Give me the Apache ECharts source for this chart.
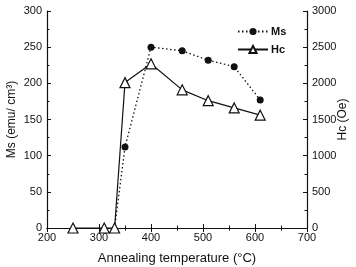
<!DOCTYPE html>
<html>
<head>
<meta charset="utf-8">
<script src="https://cdn.jsdelivr.net/npm/echarts@6/dist/echarts.min.js"></script>
<style>
html, body { margin: 0; padding: 0; background: #fff; }
#chart { width: 356px; height: 267px; }
</style>
</head>
<body>
<div id="chart"></div>
<script>
// annealing temperature (C) and the two measured series
var msTemp = [330, 350, 400, 460, 510, 560, 610]
var msValue = [0, 112, 250, 245, 232, 223, 177]
var hcTemp = [250, 310, 330, 350, 400, 460, 510, 560, 610]
var hcValue = [0, 0, 0, 2010, 2270, 1910, 1760, 1660, 1560]

function pairs(xs, ys) {
    var out = []
    for (var i = 0; i < xs.length; i++) out.push([xs[i], ys[i]])
    return out
}

var font = "Liberation Sans"
var ink = "#111"
var chart = echarts.init(document.getElementById("chart"))

var tickInside = { show: true, inside: true, length: 4, lineStyle: { color: ink, width: 1 } }
var minorInside = { show: true, splitNumber: 2, length: 2.5, lineStyle: { color: ink, width: 1 } }

chart.setOption({
    animation: false,
    backgroundColor: "#fff",
    grid: { left: 47, right: 49, top: 11, bottom: 39, outerBoundsMode: "none", containLabel: false },
    legend: {
        left: 232, top: 21, orient: "vertical", itemGap: 7,
        itemWidth: 30, itemHeight: 9,
        textStyle: { fontFamily: font, fontSize: 11, fontWeight: "bold", color: ink, padding: [0, 0, 0, -2] },
        data: ["Ms", "Hc"]
    },
    xAxis: [{
        type: "value", min: 200, max: 700, interval: 100,
        name: "Annealing temperature (°C)", nameLocation: "middle", nameGap: 24, nameMoveOverlap: false,
        nameTextStyle: { fontFamily: font, fontSize: 13, color: ink },
        axisLine: { lineStyle: { color: ink, width: 1.2 } },
        axisTick: tickInside, minorTick: minorInside,
        axisLabel: { fontFamily: font, fontSize: 11, color: ink, margin: 4 },
        splitLine: { show: false }
    }, {
        type: "value", position: "top", min: 200, max: 700, interval: 100,
        axisLine: { lineStyle: { color: ink, width: 1.2 } },
        axisTick: tickInside, minorTick: minorInside,
        axisLabel: { show: false }, splitLine: { show: false }
    }],
    yAxis: [{
        type: "value", min: 0, max: 300, interval: 50,
        name: "Ms (emu/ cm³)", nameLocation: "middle", nameGap: 29, nameRotate: 90, nameMoveOverlap: false,
        nameTextStyle: { fontFamily: font, fontSize: 12, color: ink },
        axisLine: { show: true, lineStyle: { color: ink, width: 1.2 } },
        axisTick: tickInside, minorTick: minorInside,
        axisLabel: { fontFamily: font, fontSize: 11, color: ink, margin: 5 },
        splitLine: { show: false }
    }, {
        type: "value", position: "right", min: 0, max: 3000, interval: 500,
        name: "Hc (Oe)", nameLocation: "middle", nameGap: 30, nameRotate: 90, nameMoveOverlap: false,
        nameTextStyle: { fontFamily: font, fontSize: 12, color: ink },
        axisLine: { show: true, lineStyle: { color: ink, width: 1.2 } },
        axisTick: tickInside, minorTick: minorInside,
        axisLabel: { fontFamily: font, fontSize: 11, color: ink, margin: 5, formatter: function (v) { return String(v) } },
        splitLine: { show: false }
    }],
    series: [{
        name: "Hc", type: "line", yAxisIndex: 1,
        data: pairs(hcTemp, hcValue),
        symbol: "triangle", symbolSize: 10,
        lineStyle: { color: ink, width: 1.2 },
        itemStyle: { color: "#fff", borderColor: ink, borderWidth: 1.2 },
        z: 3
    }, {
        name: "Ms", type: "line", yAxisIndex: 0,
        data: pairs(msTemp, msValue),
        symbol: function (v) { return v[1] === 0 ? "none" : "circle" },
        symbolSize: 7,
        lineStyle: { color: ink, width: 1.3, type: [1.5, 2.5] },
        itemStyle: { color: ink },
        z: 2
    }]
})
</script>
</body>
</html>
